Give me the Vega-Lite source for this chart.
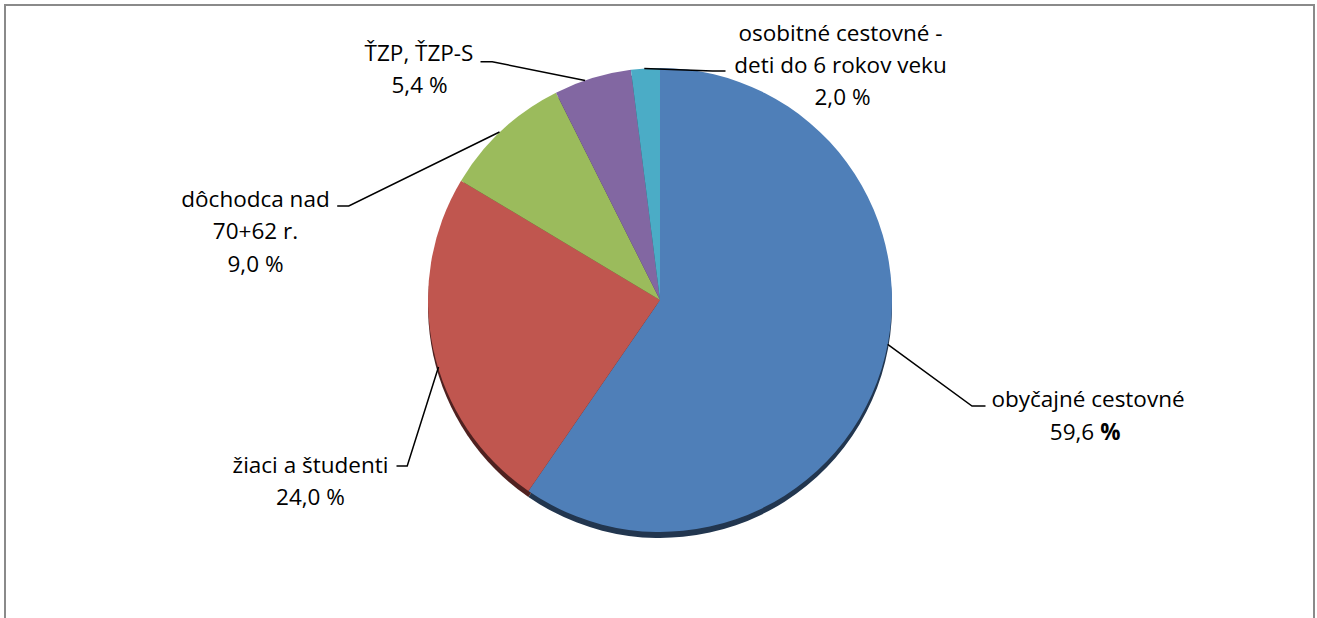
{
  "$schema": "https://vega.github.io/schema/vega-lite/v6.json",
  "width": 1309,
  "height": 613,
  "padding": {"left": 5, "top": 5, "right": 3, "bottom": 0},
  "autosize": {"type": "none"},
  "background": "white",
  "config": {"view": {"stroke": null}},
  "datasets": {
    "slices": [
      {"cat": "obyčajné cestovné", "value": 59.6, "ord": 1},
      {"cat": "žiaci a študenti", "value": 24.0, "ord": 2},
      {"cat": "dôchodca nad 70+62 r.", "value": 9.0, "ord": 3},
      {"cat": "ŤZP, ŤZP-S", "value": 5.4, "ord": 4},
      {"cat": "osobitné cestovné - deti do 6 rokov veku", "value": 2.0, "ord": 5}
    ],
    "labels": [
      {"t": "obyčajné cestovné", "x": 428, "y": -107},
      {"t": "59,6", "x": 412, "y": -140},
      {"t": "žiaci a študenti", "x": -349.5, "y": -172.7},
      {"t": "24,0 %", "x": -349.5, "y": -205},
      {"t": "dôchodca nad", "x": -404.5, "y": 92.7},
      {"t": "70+62 r.", "x": -404.5, "y": 61},
      {"t": "9,0 %", "x": -404.5, "y": 28.3},
      {"t": "ŤZP, ŤZP-S", "x": -241, "y": 239.3},
      {"t": "5,4 %", "x": -240.5, "y": 207.3},
      {"t": "osobitné cestovné -", "x": 180.5, "y": 259},
      {"t": "deti do 6 rokov veku", "x": 180.5, "y": 226.7},
      {"t": "2,0 %", "x": 182.5, "y": 195}
    ],
    "boldlabels": [
      {"t": "%", "x": 450.5, "y": -140}
    ],
    "leaders": [
      {"s": "a", "i": 1, "x": 227.7, "y": -44.3},
      {"s": "a", "i": 2, "x": 312, "y": -106},
      {"s": "a", "i": 3, "x": 325.5, "y": -106},
      {"s": "b", "i": 1, "x": -221.5, "y": -67},
      {"s": "b", "i": 2, "x": -252.8, "y": -166},
      {"s": "b", "i": 3, "x": -263.5, "y": -166},
      {"s": "c", "i": 1, "x": -160.5, "y": 168},
      {"s": "c", "i": 2, "x": -311.2, "y": 94},
      {"s": "c", "i": 3, "x": -322.8, "y": 94},
      {"s": "d", "i": 1, "x": -74.9, "y": 219.5},
      {"s": "d", "i": 2, "x": -167.8, "y": 238.3},
      {"s": "d", "i": 3, "x": -179.5, "y": 238.3},
      {"s": "e", "i": 1, "x": -15.7, "y": 231.5},
      {"s": "e", "i": 2, "x": 52.5, "y": 229},
      {"s": "e", "i": 3, "x": 65.5, "y": 229}
    ],
    "frame": [
      {"x1": -655, "x2": 654, "y1": 295, "y2": -340}
    ]
  },
  "layer": [
    {
      "data": {"name": "frame"},
      "mark": {"type": "rect", "fill": null, "stroke": "#8a8a8a", "strokeWidth": 2, "clip": false},
      "encoding": {
        "x": {"field": "x1", "type": "quantitative", "scale": {"domain": [-655, 654], "nice": false, "zero": false}, "axis": null},
        "x2": {"field": "x2"},
        "y": {"field": "y1", "type": "quantitative", "scale": {"domain": [-318, 295], "nice": false, "zero": false}, "axis": null},
        "y2": {"field": "y2"}
      }
    },
    {
      "data": {"name": "slices"},
      "mark": {"type": "arc", "radius": 232},
      "encoding": {
        "x": {"datum": 0, "type": "quantitative", "scale": {"domain": [-655, 654], "nice": false, "zero": false}, "axis": null},
        "y": {"datum": -6, "type": "quantitative", "scale": {"domain": [-318, 295], "nice": false, "zero": false}, "axis": null},
        "theta": {"field": "value", "type": "quantitative", "stack": true},
        "order": {"field": "ord", "type": "quantitative"},
        "color": {"field": "cat", "type": "nominal", "sort": null, "legend": null,
          "scale": {"domain": ["obyčajné cestovné", "žiaci a študenti", "dôchodca nad 70+62 r.", "ŤZP, ŤZP-S", "osobitné cestovné - deti do 6 rokov veku"],
                    "range": ["#22364f", "#4f2120", "#45542a", "#3a2d4a", "#22505c"]}}
      }
    },
    {
      "data": {"name": "slices"},
      "mark": {"type": "arc", "radius": 232},
      "encoding": {
        "x": {"datum": 0, "type": "quantitative", "scale": {"domain": [-655, 654], "nice": false, "zero": false}, "axis": null},
        "y": {"datum": 0, "type": "quantitative", "scale": {"domain": [-318, 295], "nice": false, "zero": false}, "axis": null},
        "theta": {"field": "value", "type": "quantitative", "stack": true},
        "order": {"field": "ord", "type": "quantitative"},
        "color": {"field": "cat", "type": "nominal", "sort": null, "legend": null,
          "scale": {"domain": ["obyčajné cestovné", "žiaci a študenti", "dôchodca nad 70+62 r.", "ŤZP, ŤZP-S", "osobitné cestovné - deti do 6 rokov veku"],
                    "range": ["#4f7fb8", "#c0564f", "#9bbb5c", "#8267a2", "#4bacc6"]}}
      }
    },
    {
      "data": {"name": "leaders"},
      "mark": {"type": "line", "color": "#000000", "strokeWidth": 1.5},
      "encoding": {
        "x": {"field": "x", "type": "quantitative", "scale": {"domain": [-655, 654], "nice": false, "zero": false}, "axis": null},
        "y": {"field": "y", "type": "quantitative", "scale": {"domain": [-318, 295], "nice": false, "zero": false}, "axis": null},
        "detail": {"field": "s"},
        "order": {"field": "i", "type": "quantitative"}
      }
    },
    {
      "data": {"name": "labels"},
      "mark": {"type": "text", "font": "Open Sans", "fontSize": 22.5, "color": "#000000", "baseline": "alphabetic", "align": "center"},
      "encoding": {
        "x": {"field": "x", "type": "quantitative", "scale": {"domain": [-655, 654], "nice": false, "zero": false}, "axis": null},
        "y": {"field": "y", "type": "quantitative", "scale": {"domain": [-318, 295], "nice": false, "zero": false}, "axis": null},
        "text": {"field": "t"}
      }
    },
    {
      "data": {"name": "boldlabels"},
      "mark": {"type": "text", "font": "Open Sans", "fontSize": 22.5, "fontWeight": "bold", "color": "#000000", "baseline": "alphabetic", "align": "center"},
      "encoding": {
        "x": {"field": "x", "type": "quantitative", "scale": {"domain": [-655, 654], "nice": false, "zero": false}, "axis": null},
        "y": {"field": "y", "type": "quantitative", "scale": {"domain": [-318, 295], "nice": false, "zero": false}, "axis": null},
        "text": {"field": "t"}
      }
    }
  ],
  "resolve": {"scale": {"color": "independent"}}
}
